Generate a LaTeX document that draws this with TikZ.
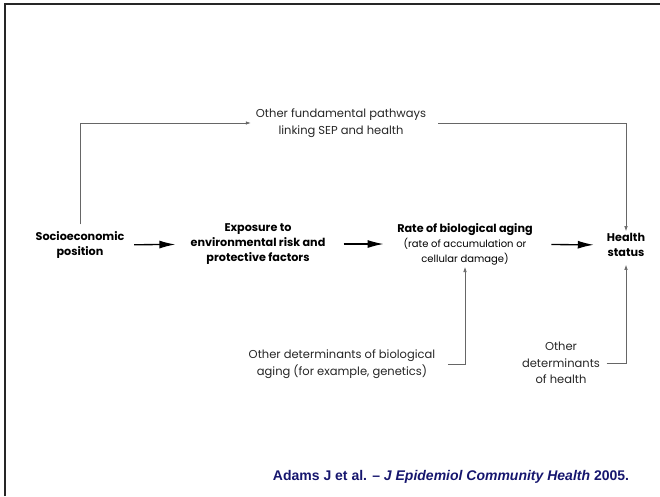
\documentclass[tikz,border=0pt]{standalone}
\usepackage{fontspec}
\setmainfont{Poppins}
\newfontfamily\citefont{Liberation Sans}
\usetikzlibrary{calc}
\usetikzlibrary{arrows.meta}
\definecolor{citeblue}{RGB}{22,22,110}

\begin{document}
\begin{tikzpicture}[x=1pt,y=-1pt,
    facteur/.style={font=\fontsize{11.2}{15}\selectfont\bfseries, align=center, inner sep=2pt},
    autre/.style={font=\fontsize{11.5}{16.5}\selectfont, text=black!85, align=center, inner sep=2pt},
    flechegrasse/.style={-{Latex[length=16pt,width=8pt]}, line width=1.3pt},
    filet/.style={line width=0.6pt, draw=black!60},
    flechefine/.style={filet, -{Latex[length=5pt,width=3.5pt]}}]
    \useasboundingbox (0,0) rectangle (660,496);
    % Cadre
    \draw[line width=1.8pt, black!85] (5,496) -- (5,4) -- (660,4);
    % Facteurs
    \node[facteur] (sep) at (80,245) {Socioeconomic\\position};
    \node[facteur] (expo) at (258,244) {Exposure to\\environmental risk and\\protective factors};
    \node[facteur] (vieil) at (465,244) {Rate of biological aging\\
      {\mdseries\fontsize{10}{14}\selectfont (rate of accumulation or}\\
      {\mdseries\fontsize{10}{14}\selectfont cellular damage)}};
    \node[facteur] (sante) at (626,245) {Health\\status};
    % Autres determinants
    \node[autre] (fond) at (341,123) {Other fundamental pathways\\linking SEP and health};
    \node[autre] (detbio) at (342,364) {Other determinants of biological\\aging (for example, genetics)};
    \node[autre] (detsante) at (561,363) {Other\\determinants\\of health};
    % Reference
    \node[font=\citefont\fontsize{14}{16}\selectfont\bfseries, text=citeblue] (ref) at (451,477)
      {Adams J et al. – \textit{J Epidemiol Community Health} 2005.};
    % Fleches
    \draw[flechegrasse, shorten <=7.5pt, shorten >=13pt] (sep) -- (expo);
    \draw[flechegrasse, shorten <=16pt, shorten >=11.5pt] (expo) -- (vieil);
    \draw[flechegrasse, shorten <=16.5pt, shorten >=11pt] (vieil) -- (sante);
    \draw[flechefine, shorten <=5pt, shorten >=3pt] (sep.north) |- (fond.west);
    \draw[flechefine, shorten <=10pt] (fond.east) -| (sante.north);
    \draw[flechefine, shorten <=10.5pt] (detbio.east) -| (vieil.south);
    \draw[flechefine, shorten <=4.5pt, shorten >=6pt] (detsante.east) -| (sante.south);
\end{tikzpicture}
\end{document}
